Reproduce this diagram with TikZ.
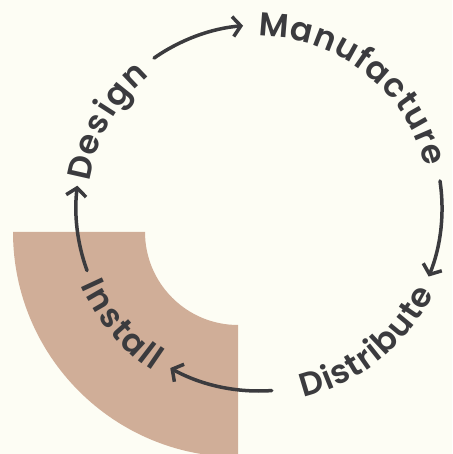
\documentclass[tikz,border=0pt]{standalone}
\usepackage{fontspec}
\newfontfamily\poppins{Poppins SemiBold}
\usetikzlibrary{arrows.meta,decorations.text}
\definecolor{cream}{HTML}{FDFDF4}
\definecolor{clay}{HTML}{D0AE98}
\definecolor{ink}{HTML}{3B3B3E}
\newcommand\wordfont{\poppins\fontsize{33}{39}\selectfont}

\begin{document}
\begin{tikzpicture}[x=1pt,y=1pt,>={Straight Barb[length=8pt,width=20pt]},
    word/.style={decorate,decoration={text along path,text align=fit to path,
      raise=-11.5pt,text color=ink,text={|\wordfont|#1}}}]
        \tikzstyle{flow}=[draw=ink,line width=3.5pt,line cap=round,->]

        \fill[cream] (0,0) rectangle (452,454);
        \useasboundingbox (0,0) rectangle (452,454);
        \coordinate (hub)    at (259,246);
        \coordinate (corner) at (238,222);

        % quarter ring behind the cycle
        \begin{scope}
          \clip (0,0) rectangle (452,454);
          \fill[clay] (corner) ++(180:225) arc[start angle=180,end angle=270,radius=225]
                      -- ++(0,132) arc[start angle=270,end angle=180,radius=93] -- cycle;
        \end{scope}

        \path[word=Manufacture] (hub) ++(90:183)    arc[start angle=90,end angle=14,radius=183];
        \path[word=Distribute]  (hub) ++(283:183)   arc[start angle=283,end angle=332.5,radius=183];
        \path[word=Install]     (hub) ++(203.5:183) arc[start angle=203.5,end angle=237,radius=183];
        \path[word=Design]      (hub) ++(171:183)   arc[start angle=171,end angle=130,radius=183];

        \draw[flow] (hub) ++(125:183) arc[start angle=125,end angle=95,radius=183];
        \draw[flow] (hub) ++(8.5:183) arc[start angle=8.5,end angle=-22,radius=183];
        \draw[flow] (hub) ++(274:183) arc[start angle=274,end angle=241,radius=183];
        \draw[flow] (hub) ++(200:183) arc[start angle=200,end angle=173,radius=183];
      \end{tikzpicture}
\end{document}
